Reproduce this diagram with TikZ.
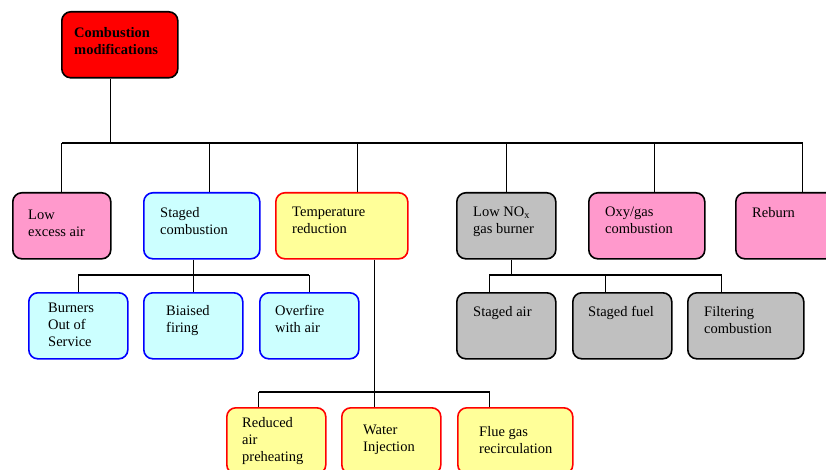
\documentclass[tikz,border=0pt]{standalone}
\usepackage{fontspec}
\setmainfont{Liberation Serif}
\definecolor{rootred}{HTML}{FF0000}
\definecolor{pinkc}{HTML}{FF99CC}
\definecolor{cyanc}{HTML}{CCFFFF}
\definecolor{yellowc}{HTML}{FFFF99}
\definecolor{grayc}{HTML}{C0C0C0}
\tikzset{
  box/.style={draw, rounded corners=9, line width=1.6, anchor=north west,
    minimum width=99, minimum height=66, inner sep=0},
  txt/.style={anchor=north west, align=left, inner sep=0, xshift=17, yshift=-15,
    font=\fontsize{14.5}{17}\selectfont},
  conn/.style={line width=1.3},
}
\begin{document}
\begin{tikzpicture}[x=1pt, y=-1pt]
\clip (0,0) rectangle (826,470);

\node[box, fill=rootred, minimum width=116,
  label={[txt, xshift=-4, yshift=-1, font=\fontsize{14.5}{17}\selectfont\bfseries]north west:{Combustion\\modifications}}] (root) at (61,11) {};

% first level
\node[box, fill=pinkc, minimum width=98,
  label={[txt, xshift=-1, yshift=-3]north west:{Low\\excess air}}] (lowair) at (12,192) {};
\node[box, fill=cyanc, draw=blue, minimum width=116,
  label={[txt]north west:{Staged\\combustion}}] (staged) at (143,192) {};
\node[box, fill=yellowc, draw=red, minimum width=132,
  label={[txt]north west:{Temperature\\reduction}}] (temp) at (275,192) {};
\node[box, fill=grayc,
  label={[txt]north west:{Low NO\textsubscript{x}\\gas burner}}] (lownox) at (456,192) {};
\node[box, fill=pinkc, minimum width=116,
  label={[txt]north west:{Oxy/gas\\combustion}}] (oxy) at (588,192) {};
\node[box, fill=pinkc,
  label={[txt]north west:{Reburn}}] (reburn) at (735,192) {};

% second level
\node[box, fill=cyanc, draw=blue,
  label={[txt, xshift=3, yshift=4]north west:{Burners\\Out of\\Service}}] (burners) at (28,292) {};
\node[box, fill=cyanc, draw=blue,
  label={[txt, xshift=6, yshift=2]north west:{Biaised\\firing}}] (biaised) at (143,292) {};
\node[box, fill=cyanc, draw=blue,
  label={[txt, xshift=-1, yshift=2]north west:{Overfire\\with air}}] (overfire) at (259,292) {};
\node[box, fill=grayc,
  label={[txt, yshift=1]north west:{Staged air}}] (stair) at (456,292) {};
\node[box, fill=grayc,
  label={[txt, xshift=-1, yshift=1]north west:{Staged fuel}}] (stfuel) at (572,292) {};
\node[box, fill=grayc, minimum width=116,
  label={[txt, yshift=1]north west:{Filtering\\combustion}}] (filter) at (687,292) {};

% third level
\node[box, fill=yellowc, draw=red,
  label={[txt, xshift=-1, yshift=5]north west:{Reduced\\air\\preheating}}] (reduced) at (226,407) {};
\node[box, fill=yellowc, draw=red,
  label={[txt, xshift=5, yshift=-3]north west:{Water\\Injection}}] (water) at (341,407) {};
\node[box, fill=yellowc, draw=red, minimum width=115,
  label={[txt, xshift=5, yshift=-4]north west:{Flue gas\\recirculation}}] (flue) at (457,407) {};

% connectors
\coordinate (bus) at (0,143);
\coordinate (busb) at (0,275);
\coordinate (busc) at (0,392);
\draw[conn] ([xshift=-9]root.south) -- ([xshift=-9]root.south |- bus);
\draw[conn] (lowair.north |- bus) -- ([xshift=17.5]reburn.north |- bus);
\foreach \n/\s in {lowair/0, staged/8, temp/16, lownox/0, oxy/8, reburn/17.5}
  \draw[conn] ([xshift=\s]\n.north) -- ([xshift=\s]\n.north |- bus);

\draw[conn] ([xshift=-8]staged.south) -- ([xshift=-8]staged.south |- busb);
\draw[conn] (burners.north |- busb) -- (overfire.north |- busb);
\foreach \n in {burners, biaised, overfire}
  \draw[conn] (\n.north) -- (\n.north |- busb);

\draw[conn] ([xshift=5]lownox.south) -- ([xshift=5]lownox.south |- busb);
\draw[conn] ([xshift=-17]stair.north |- busb) -- ([xshift=-24]filter.north |- busb);
\foreach \n/\s in {stair/-17, stfuel/-16.5, filter/-24}
  \draw[conn] ([xshift=\s]\n.north) -- ([xshift=\s]\n.north |- busb);

\draw[conn] ([xshift=33]temp.south) -- ([xshift=33]temp.south |- busc);
\draw[conn] ([xshift=-17.5]reduced.north |- busc) -- ([xshift=-25.5]flue.north |- busc);
\foreach \n/\s in {reduced/-17.5, water/-16.5, flue/-25.5}
  \draw[conn] ([xshift=\s]\n.north) -- ([xshift=\s]\n.north |- busc);
\end{tikzpicture}
\end{document}
